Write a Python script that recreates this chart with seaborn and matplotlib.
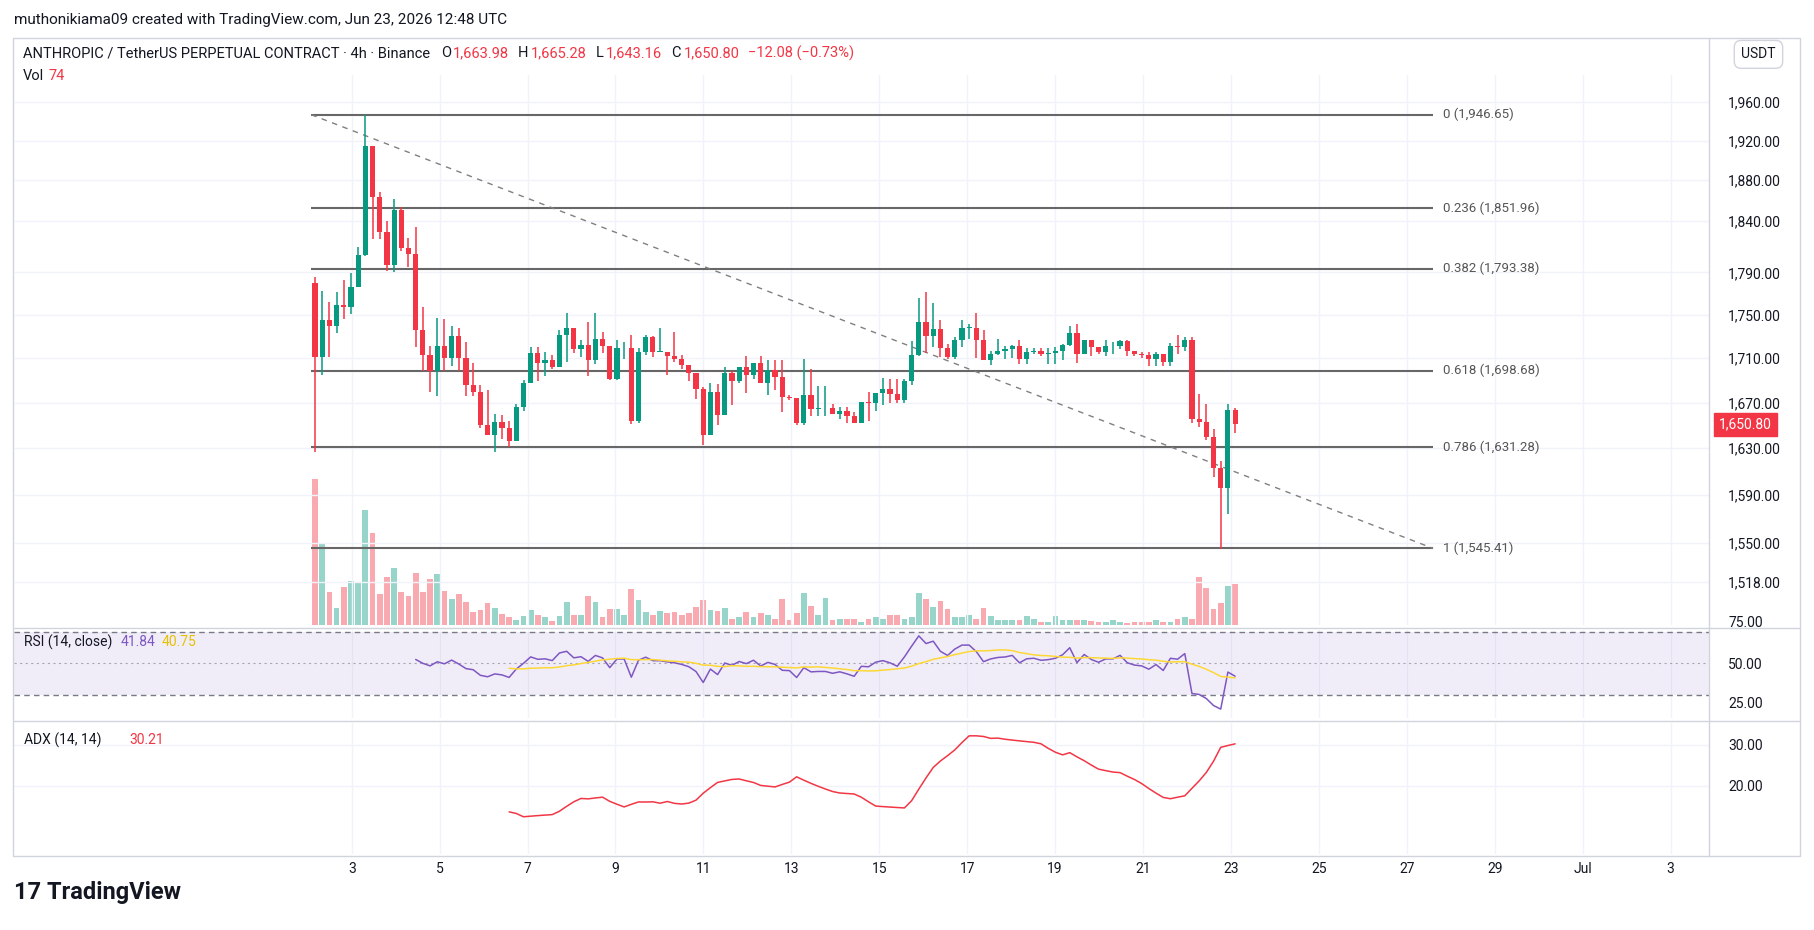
import numpy as np
import pandas as pd
import matplotlib
matplotlib.use("Agg")
import matplotlib.pyplot as plt
import matplotlib.transforms as mtrans
import seaborn as sns

sns.set_theme(style="white")
plt.rcParams['font.family'] = ['Roboto', 'DejaVu Sans']

# ---------------- data (4h candles, ANTHROPIC/USDT) ----------------
first_open = 1780.0
closes = [1711,1745,1740,1759,1757,1776,1807,1914,1863,1829,1797,1850,1813,1808,1736,1713,1698,1721,1710,1730,
          1710,1686,1680,1650,1642,1653,1648,1636,1666,1688,1715,1706,1708,1702,1731,1738,1718,1722,1708,1728,
          1721,1691,1719,1719,1654,1716,1729,1716,1716,1712,1709,1704,1697,1682,1642,1680,1659,1697,1689,1702,
          1695,1706,1688,1699,1693,1675,1674,1652,1677,1664,1665,1665,1660,1663,1658,1652,1671,1670,1679,1682,
          1678,1672,1689,1713,1743,1730,1737,1719,1711,1727,1738,1738,1727,1708,1714,1717,1718,1721,1709,1716,
          1717,1714,1715,1717,1722,1733,1714,1727,1720,1716,1721,1721,1726,1717,1714,1713,1709,1714,1707,1721,
          1720,1727,1656,1653,1640,1613,1596,1663.98,1650.80]
highs = [1786,1772,1762,1771,1783,1789,1814,1946,1914,1868,1840,1861,1853,1823,1834,1757,1721,1747,1746,1740,
         1738,1725,1706,1686,1681,1660,1659,1654,1669,1690,1720,1720,1716,1713,1736,1752,1738,1727,1743,1752,
         1734,1721,1727,1725,1731,1719,1731,1730,1738,1716,1734,1713,1704,1697,1684,1688,1687,1702,1698,1702,
         1712,1706,1712,1708,1708,1708,1677,1674,1709,1700,1685,1685,1669,1666,1666,1662,1671,1680,1679,1692,
         1691,1691,1691,1726,1766,1771,1761,1745,1723,1729,1745,1741,1752,1736,1717,1728,1721,1722,1727,1719,
         1719,1719,1719,1720,1723,1740,1741,1727,1727,1718,1727,1725,1727,1727,1716,1716,1716,1716,1709,1724,
         1731,1729,1729,1678,1669,1647,1619,1669,1665.28]
lows = [1627,1695,1711,1733,1746,1751,1776,1806,1822,1822,1791,1790,1810,1795,1720,1698,1680,1676,1698,1703,
        1698,1676,1676,1648,1642,1627,1638,1631,1636,1663,1688,1689,1694,1700,1702,1707,1715,1711,1694,1705,
        1715,1690,1690,1709,1651,1652,1713,1711,1716,1695,1707,1700,1689,1673,1633,1642,1650,1659,1668,1688,
        1679,1691,1688,1677,1681,1662,1672,1650,1650,1658,1658,1658,1660,1656,1652,1652,1652,1654,1663,1668,
        1670,1670,1670,1686,1712,1715,1720,1711,1709,1709,1720,1728,1710,1708,1704,1713,1709,1710,1705,1705,
        1714,1712,1705,1705,1708,1721,1706,1718,1712,1714,1712,1714,1718,1712,1712,1710,1703,1703,1703,1703,
        1714,1717,1652,1649,1637,1605,1545,1574,1643.16]
volumes = [422,233,95,48,110,127,122,333,266,90,138,165,93,84,150,95,133,147,98,75,
           90,66,37,43,63,48,31,22,12,25,43,28,22,10,25,66,27,29,83,66,
           22,45,45,28,104,72,37,29,40,34,36,29,34,51,72,43,40,47,16,23,
           37,22,34,28,16,75,14,34,92,54,28,76,13,16,17,17,9,17,23,17,
           28,28,17,23,91,74,51,68,46,23,23,28,17,48,26,14,14,14,14,26,
           17,9,9,26,14,14,14,14,11,9,9,14,9,6,9,9,9,14,9,9,
           17,23,17,137,105,46,63,111,117,9]
start_day = 2 + 4/24          # 2 Jun 04:00
step = 0.1635                 # candle spacing as drawn on the reference's time axis

n = len(closes)
volumes = (volumes + [9]*n)[:n]
opens = [first_open] + closes[:-1]
df = pd.DataFrame({"o": opens, "h": highs[:n], "l": lows[:n], "c": closes, "v": volumes})
df["t"] = start_day + np.arange(n) * step
df["h"] = df[["h", "o", "c"]].max(axis=1)
df["l"] = df[["l", "o", "c"]].min(axis=1)

def rma(x, p):
    out = np.full(len(x), np.nan)
    x = np.asarray(x, float)
    idx = np.where(~np.isnan(x))[0]
    s = idx[0]
    if len(x) - s < p:
        return out
    out[s + p - 1] = np.mean(x[s:s + p])
    for i in range(s + p, len(x)):
        out[i] = (out[i - 1] * (p - 1) + x[i]) / p
    return out

c = df["c"].values
d = np.diff(c, prepend=np.nan)
up = np.where(d > 0, d, 0.0); up[0] = np.nan
dn = np.where(d < 0, -d, 0.0); dn[0] = np.nan
au, ad = rma(up, 14), rma(dn, 14)
df["rsi"] = 100 - 100 / (1 + au / ad)
df["rsima"] = df["rsi"].rolling(14).mean()
h, l = df["h"].values, df["l"].values
pc = np.roll(c, 1)
tr = np.maximum.reduce([h - l, np.abs(h - pc), np.abs(l - pc)]); tr[0] = np.nan
upm = h - np.roll(h, 1); dnm = np.roll(l, 1) - l
pdm = np.where((upm > dnm) & (upm > 0), upm, 0.0); pdm[0] = np.nan
mdm = np.where((dnm > upm) & (dnm > 0), dnm, 0.0); mdm[0] = np.nan
atr = rma(tr, 14)
pdi = 100 * rma(pdm, 14) / atr
mdi = 100 * rma(mdm, 14) / atr
dx = 100 * np.abs(pdi - mdi) / (pdi + mdi)
df["adx"] = rma(dx, 14)

fib_ratio = ["0", "0.236", "0.382", "0.618", "0.786", "1"]
fib_price = [1946.65, 1851.96, 1793.38, 1698.68, 1631.28, 1545.41]
price_ticks = [1518, 1550, 1590, 1630, 1670, 1710, 1750, 1790, 1840, 1880, 1920, 1960]
date_ticks = [3, 5, 7, 9, 11, 13, 15, 17, 19, 21, 23, 25, 27, 29, 31, 33]
date_labels = ["3", "5", "7", "9", "11", "13", "15", "17", "19", "21", "23", "25", "27", "29", "Jul", "3"]

GREEN, RED = "#089981", "#F23645"
GRID = "#F0F3FA"
TXT = "#131722"

W, H = 1568, 804
fig = plt.figure(figsize=(18.14, 9.30), dpi=100)
def fx(x): return x / W
def fy(y): return 1 - y / H

L, R = fx(12), fx(1477)
ax = fig.add_axes([L, fy(540), R - L, fy(65) - fy(540)])
axr = fig.add_axes([L, fy(621), R - L, fy(545) - fy(621)], sharex=ax)
axa = fig.add_axes([L, fy(738), R - L, fy(625) - fy(738)], sharex=ax)
xmin, xmax = 3 - 292 / 38, 3 + 1173 / 38

axv = ax.twinx()
vcol = np.where(df["c"] >= df["o"], GREEN, RED)
axv.bar(df["t"], df["v"], width=step * 0.8, color=vcol, alpha=0.42, zorder=1, linewidth=0)
axv.set_ylim(0, 1590)
axv.set_yticks([])
for s in axv.spines.values(): s.set_visible(False)

ax.set_zorder(axv.get_zorder() + 1); ax.patch.set_visible(False)
ax.set_yscale("log")
ax.set_ylim(1484, 1988)
ax.set_xlim(xmin, xmax)
col = np.where(df["c"] >= df["o"], GREEN, RED)
ax.vlines(df["t"], df["l"], df["h"], colors=col, lw=1.1, zorder=3)
body_lo = np.minimum(df["o"], df["c"]); body_hi = np.maximum(df["o"], df["c"])
ax.bar(df["t"], np.maximum(body_hi - body_lo, 0.6), bottom=body_lo, width=step * 0.72,
       color=col, zorder=4, linewidth=0)

fx0, fx1 = 2.08, 27.6
for r, p in zip(fib_ratio, fib_price):
    ax.hlines(p, fx0, fx1, color="#676767", lw=1.5, zorder=2)
    ax.text(fx1 + 0.22, p, f"{r} ({p:,.2f})", va="center", ha="left", fontsize=9.5, color="#555555")
ax.plot([fx0, fx1], [fib_price[0], fib_price[-1]], ls=(0, (4, 4)), color="#808080", lw=1, zorder=2)

ax.set_yticks(price_ticks)
ax.yaxis.set_minor_locator(matplotlib.ticker.NullLocator())
ax.set_yticklabels([f"{t:,.2f}" for t in price_ticks])
ax.yaxis.tick_right()
ax.tick_params(axis="y", length=0, labelsize=10, colors=TXT, pad=14)
ax.grid(True, color=GRID, lw=1)
ax.set_xticks(date_ticks)
ax.tick_params(axis="x", labelbottom=False, length=0)
last = df["c"].iloc[-1]
ax.text(1.0 + 0.006, last, f"{last:,.2f}", transform=ax.get_yaxis_transform(), va="center", ha="left",
        fontsize=10, color="white", bbox=dict(boxstyle="square,pad=0.35", fc=RED, ec=RED))

# RSI
axr.axhspan(30, 70, color="#7E57C2", alpha=0.1, lw=0)
axr.axhline(70, color="#787B86", ls=(0, (4, 3)), lw=1)
axr.axhline(50, color="#787B86", ls=(0, (2, 3)), lw=0.8, alpha=0.6)
axr.axhline(30, color="#787B86", ls=(0, (4, 3)), lw=1)
sns.lineplot(x=df["t"], y=df["rsi"], ax=axr, color="#7E57C2", lw=1.1)
sns.lineplot(x=df["t"], y=df["rsima"], ax=axr, color="#FDD835", lw=1.1)
axr.set_ylim(15, 71)
axr.set_yticks([25, 50])
axr.set_yticklabels(["25.00", "50.00"])
off = mtrans.offset_copy(axr.get_yaxis_transform(), fig=fig, x=14, y=0, units="points")
axr.text(1.0, 75.5, "75.00", transform=off, va="center", ha="left", fontsize=10, color=TXT, clip_on=False)
axr.yaxis.tick_right()
axr.tick_params(axis="y", length=0, labelsize=10, colors=TXT, pad=14)
axr.tick_params(axis="x", labelbottom=False, length=0)
axr.grid(True, axis="x", color=GRID)
axr.set_xlabel(""); axr.set_ylabel("")
axr.text(0.006, 0.87, "RSI (14, close)", transform=axr.transAxes, fontsize=10, color=TXT, va="center")
axr.text(0.063, 0.87, f"{df['rsi'].iloc[-1]:.2f}", transform=axr.transAxes, fontsize=10, color="#7E57C2", va="center")
axr.text(0.087, 0.87, f"{df['rsima'].iloc[-1]:.2f}", transform=axr.transAxes, fontsize=10, color="#E5C100", va="center")

# ADX
sns.lineplot(x=df["t"], y=df["adx"], ax=axa, color="#F23645", lw=1.1)
axa.set_ylim(3.5, 35.3)
axa.set_yticks([20, 30]); axa.set_yticklabels(["20.00", "30.00"])
axa.yaxis.tick_right()
axa.tick_params(axis="y", length=0, labelsize=10, colors=TXT, pad=14)
axa.set_xticks(date_ticks); axa.set_xticklabels(date_labels)
axa.tick_params(axis="x", length=0, labelsize=10, colors=TXT, pad=6)
axa.grid(True, axis="x", color=GRID); axa.grid(True, axis="y", color=GRID)
axa.set_xlabel(""); axa.set_ylabel("")
axa.set_xlim(xmin, xmax)
axa.text(0.006, 0.87, "ADX (14, 14)", transform=axa.transAxes, fontsize=10, color=TXT, va="center")
axa.text(0.068, 0.87, f"{df['adx'].iloc[-1]:.2f}", transform=axa.transAxes, fontsize=10, color="#F23645", va="center")

for a in (ax, axr, axa):
    for s in a.spines.values(): s.set_visible(False)

for yy in (542.5, 623):
    fig.add_artist(plt.Line2D([fx(12), fx(1555)], [fy(yy), fy(yy)], color="#D1D4DC", lw=1))
fig.add_artist(plt.Rectangle((fx(11), fy(740)), fx(1545), fy(33) - fy(740), fill=False, ec="#D1D4DC", lw=1))
fig.add_artist(plt.Line2D([R, R], [fy(740), fy(33)], color="#D1D4DC", lw=1))

fig.text(fx(12), fy(17), "muthonikiama09 created with TradingView.com, Jun 23, 2026 12:48 UTC",
         fontsize=11, color=TXT, va="center")

# header line laid out piece by piece
fig.canvas.draw()
rend = fig.canvas.get_renderer()
hy = fy(46)
fs = 10.5
pieces = [("ANTHROPIC / TetherUS PERPETUAL CONTRACT · 4h · Binance", TXT, 9),
          ("O", TXT, 2), ("1,663.98", RED, 8), ("H", TXT, 2), ("1,665.28", RED, 8),
          ("L", TXT, 2), ("1,643.16", RED, 8), ("C", TXT, 2), ("1,650.80", RED, 8),
          ("−12.08 (−0.73%)", RED, 0)]
xcur = fig.dpi * fig.get_figwidth() * fx(20)
for s, cc, gap in pieces:
    t = fig.text(xcur / (fig.dpi * fig.get_figwidth()), hy, s, fontsize=fs, color=cc, va="center")
    wpx = t.get_window_extent(renderer=rend).width
    xcur += wpx + gap * 1814 / W
fig.text(fx(20), fy(66), "Vol", fontsize=fs, color=TXT, va="center")
fig.text(fx(42), fy(66), "74", fontsize=fs, color=RED, va="center")
fig.text(fx(1520), fy(47), "USDT", fontsize=10, color=TXT, va="center", ha="center",
         bbox=dict(boxstyle="round,pad=0.5", fc="white", ec="#D1D4DC"))
fig.text(fx(12), fy(772), "17 TradingView", fontsize=17, fontweight="bold", color=TXT, va="center")

fig.savefig("out.png", dpi=100, facecolor="white")
